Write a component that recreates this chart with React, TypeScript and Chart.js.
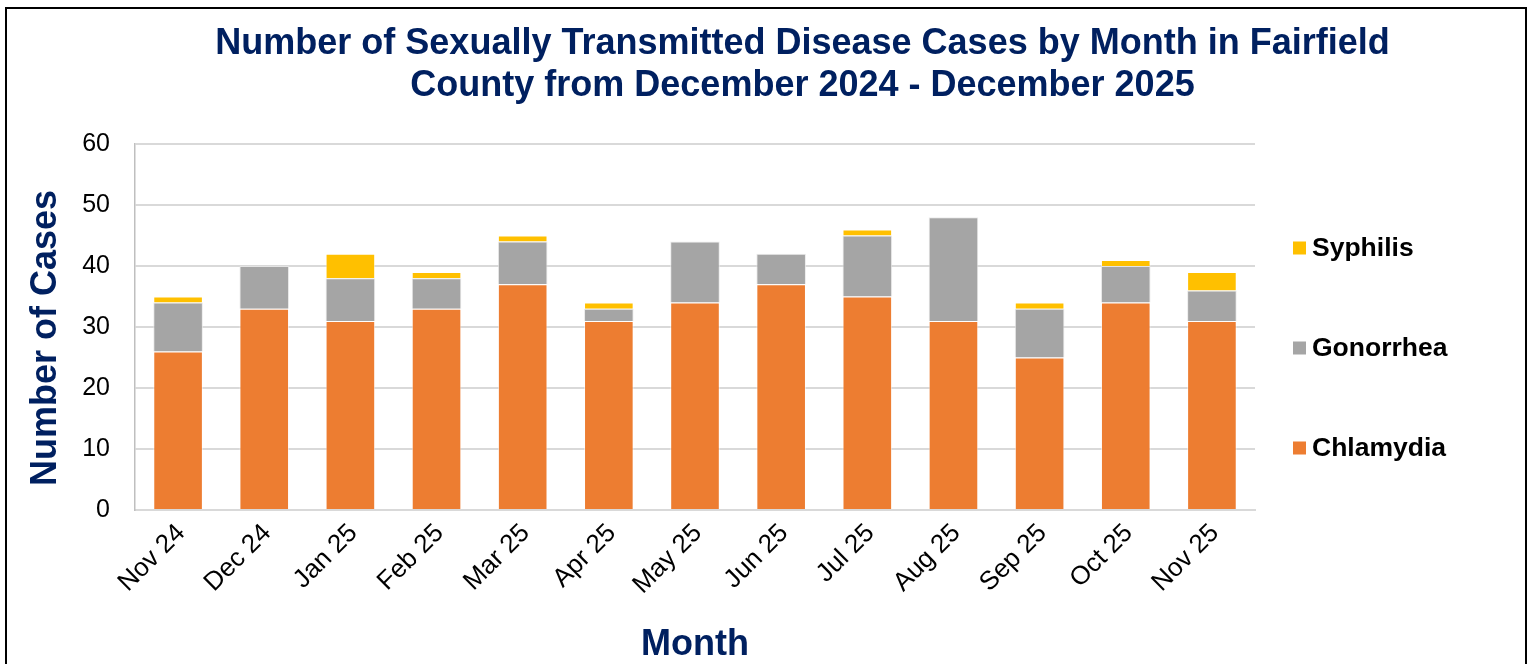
import React, { useEffect, useRef } from "react";
import { Chart, registerables } from "chart.js";

Chart.register(...registerables);

const months: string[] = [
  "Nov 24", "Dec 24", "Jan 25", "Feb 25", "Mar 25", "Apr 25", "May 25",
  "Jun 25", "Jul 25", "Aug 25", "Sep 25", "Oct 25", "Nov 25",
];
const chlamydia: number[] = [26, 33, 31, 33, 37, 31, 34, 37, 35, 31, 25, 34, 31];
const gonorrhea: number[] = [8, 7, 7, 5, 7, 2, 10, 5, 10, 17, 8, 6, 5];
const syphilis: number[] = [1, 0, 4, 1, 1, 1, 0, 0, 1, 0, 1, 1, 3];

const titleLines: string[] = [
  "Number of Sexually Transmitted Disease Cases by Month in Fairfield",
  "County from December 2024 - December 2025",
];
const yAxisTitle = "Number of Cases";
const xAxisTitle = "Month";

const FONT = '"Liberation Sans", Arial, Helvetica, sans-serif';
const NAVY = "#002060";
const ORANGE = "#ED7D31";
const GRAY = "#A5A5A5";
const YELLOW = "#FFC000";

const decorPlugin = {
  id: "decor",
  beforeDraw(chart: any) {
    const { ctx, width, height } = chart;
    ctx.save();
    ctx.fillStyle = "#ffffff";
    ctx.fillRect(0, 0, width, height);
    ctx.strokeStyle = "#000000";
    ctx.lineWidth = 2;
    ctx.strokeRect(6, 8, 1520, height + 30);
    ctx.restore();
  },
  afterDraw(chart: any) {
    const { ctx, chartArea: ca, width } = chart;
    ctx.save();
    // Title
    ctx.fillStyle = NAVY;
    ctx.font = `bold 36px ${FONT}`;
    ctx.textAlign = "center";
    ctx.textBaseline = "alphabetic";
    titleLines.forEach((t, i) => ctx.fillText(t, width / 2 + 37, 54 + i * 42));
    // Y axis title
    ctx.save();
    ctx.translate(46, (ca.top + ca.bottom) / 2 + 11);
    ctx.rotate(-Math.PI / 2);
    ctx.textAlign = "center";
    ctx.textBaseline = "middle";
    ctx.fillText(yAxisTitle, 0, 0);
    ctx.restore();
    // Legend (top to bottom: reversed dataset order)
    const items = [...chart.data.datasets].reverse();
    const cy = (ca.top + ca.bottom) / 2 + 21;
    items.forEach((ds: any, i: number) => {
      const y = cy + (i - 1) * 100;
      ctx.fillStyle = ds.backgroundColor;
      ctx.fillRect(ca.right + 38, y - 6.5, 13, 13);
      ctx.fillStyle = "#000000";
      ctx.font = `bold 26.5px ${FONT}`;
      ctx.textAlign = "left";
      ctx.textBaseline = "middle";
      ctx.fillText(ds.label, ca.right + 57, y + 1);
    });
    ctx.restore();
  },
};

export default function App() {
  const canvasRef = useRef<HTMLCanvasElement | null>(null);

  useEffect(() => {
    const canvas = canvasRef.current;
    if (!canvas) return;
    const chart = new Chart(canvas, {
      type: "bar",
      data: {
        labels: months,
        datasets: [
          {
            label: "Chlamydia",
            data: chlamydia,
            backgroundColor: ORANGE,
            borderColor: "rgba(255,255,255,0.55)",
            borderWidth: 1,
          },
          {
            label: "Gonorrhea",
            data: gonorrhea,
            backgroundColor: GRAY,
            borderColor: "rgba(230,230,230,0.8)",
            borderWidth: 1,
          },
          {
            label: "Syphilis",
            data: syphilis,
            backgroundColor: YELLOW,
            borderColor: "rgba(255,255,255,0.55)",
            borderWidth: 1,
          },
        ],
      },
      options: {
        responsive: false,
        animation: false,
        devicePixelRatio: 1,
        layout: { padding: { top: 144, right: 276, bottom: 0, left: 0 } },
        datasets: {
          bar: { categoryPercentage: 1, barPercentage: 0.576 },
        },
        plugins: {
          legend: { display: false },
          title: { display: false },
          tooltip: { enabled: false },
        },
        scales: {
          x: {
            stacked: true,
            grid: { display: false, drawTicks: false },
            border: { display: true, color: "#D9D9D9", width: 2 },
            ticks: {
              color: "#000000",
              font: { family: FONT, size: 26 },
              maxRotation: 45,
              minRotation: 45,
              padding: 8,
              labelOffset: 3,
              autoSkip: false,
            },
            title: {
              display: true,
              text: xAxisTitle,
              color: NAVY,
              font: { family: FONT, size: 36, weight: "bold", lineHeight: 1 },
              padding: { top: 0, bottom: 1 },
            },
            afterFit: (s: any) => {
              s.height = 154;
            },
          },
          y: {
            stacked: true,
            min: 0,
            max: 60,
            ticks: {
              stepSize: 10,
              color: "#000000",
              font: { family: FONT, size: 25 },
              padding: 25,
            },
            grid: { color: "#D9D9D9", lineWidth: 2, drawTicks: false },
            border: { display: true, color: "#BFBFBF", width: 1.5 },
            title: { display: false },
            afterFit: (s: any) => {
              s.width = 135;
            },
          },
        },
      },
      plugins: [decorPlugin],
    });
    return () => chart.destroy();
  }, []);

  return (
    <div style={{ position: "absolute", left: 0, top: 0, width: 1531, height: 664, background: "#fff" }}>
      <canvas ref={canvasRef} width={1531} height={664} style={{ display: "block", width: 1531, height: 664 }} />
    </div>
  );
}
